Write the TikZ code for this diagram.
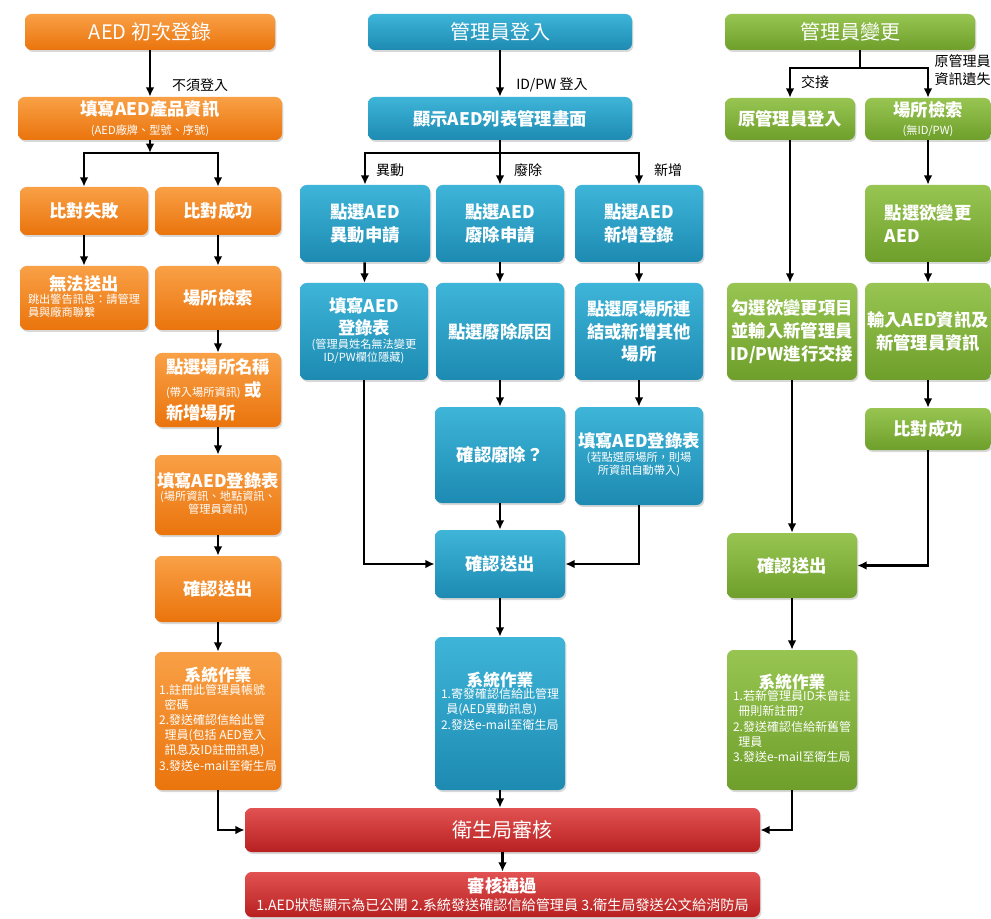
\documentclass[tikz,border=0pt]{standalone}
\usepackage{fontspec}
\setmainfont{Noto Sans CJK TC}
\usetikzlibrary{arrows.meta,shadows}
\newcommand\fsT{\fontsize{15}{18}\selectfont}
\newcommand\fsM{\fontsize{13}{17}\selectfont}
\newcommand\fsH{\fontsize{12.5}{15}\selectfont}
\newcommand\fsS{\fontsize{8.4}{10.8}\selectfont}
\newcommand\fsY{\fontsize{9}{12}\selectfont}
\newcommand\fsL{\fontsize{10.5}{13.5}\selectfont}
\definecolor{oT}{HTML}{F9A046}
\definecolor{oB}{HTML}{EA740C}
\definecolor{bT}{HTML}{3EB5D8}
\definecolor{bB}{HTML}{1D8AB2}
\definecolor{gT}{HTML}{98C552}
\definecolor{gB}{HTML}{6E9F2A}
\definecolor{rT}{HTML}{E25252}
\definecolor{rB}{HTML}{B82020}
\tikzset{
  box/.style={rounded corners=5pt, draw=none, text=white, align=center, inner sep=0pt,
    font=\fsM\bfseries, drop shadow={shadow xshift=1pt, shadow yshift=-1.5pt, opacity=0.3}},
  sz/.style 2 args={minimum width=#1*0.75pt, minimum height=#2*0.75pt},
  ob/.style={box, top color=oT, bottom color=oB},
  bb/.style={box, top color=bT, bottom color=bB},
  gb/.style={box, top color=gT, bottom color=gB},
  rb/.style={box, top color=rT, bottom color=rB},
  ttl/.style={font=\fsT\mdseries},
  arr/.style={line width=1.9pt, -{Latex[length=7pt,width=6.5pt]}},
  ln/.style={line width=1.9pt},
  lab/.style={font=\fsL, text=black, inner sep=0pt}
}
\renewcommand\arraystretch{0.95}
\begin{document}
\begin{tikzpicture}[x=0.75pt,y=-0.75pt]
\fill[white] (0,0) rectangle (991,919);
\useasboundingbox (0,0) rectangle (991,919);

% ---------- orange column ----------
\node[ob, ttl, sz={250}{36}] (t1) at (150,32) {AED 初次登錄};
\node[ob, sz={264}{43}] (o1) at (150,118.5) {填寫AED產品資訊\\[-3pt]{\fsS\mdseries (AED廠牌、型號、序號)}};
\node[ob, sz={128}{48}] (ofail) at (84,211) {比對失敗};
\node[ob, sz={126}{48}] (osucc) at (218,211) {比對成功};
\node[ob, sz={128}{64}] (onosend) at (84,298) {無法送出\\[-2pt]{\fsS\mdseries\begin{tabular}{@{}l@{}}跳出警告訊息：請管理\\員與廠商聯繫\end{tabular}}};
\node[ob, sz={126}{64}] (osearch) at (218,298) {場所檢索};
\node[ob, sz={126}{74}, align=left] (osel) at (218,390) {點選場所名稱\\{\fsS\mdseries (帶入場所資訊)} 或\\新增場所};
\node[ob, sz={126}{80}] (oform) at (218,495) {填寫AED登錄表\\[-2pt]{\fsS\mdseries\begin{tabular}{@{}c@{}}(場所資訊、地點資訊、\\管理員資訊)\end{tabular}}};
\node[ob, sz={126}{66}] (osub) at (218,589) {確認送出};
\node[ob, sz={126}{138}] (osys) at (218,721) {{\fsH 系統作業}\\[-1pt]{\fsY\mdseries\begin{tabular}{@{}l@{}}1.註冊此管理員帳號\\\ \ 密碼\\2.發送確認信給此管\\\ \ 理員(包括 AED登入\\\ \ 訊息及ID註冊訊息)\\3.發送e-mail至衛生局\end{tabular}}};

% ---------- blue column ----------
\node[bb, ttl, sz={264}{36}] (bt) at (500,32) {管理員登入};
\node[bb, sz={264}{43}] (b1) at (500,118.5) {顯示AED列表管理畫面};
\node[bb, sz={130}{77}] (b2a) at (365,223.5) {點選AED\\異動申請};
\node[bb, sz={128}{77}] (b2b) at (500,223.5) {點選AED\\廢除申請};
\node[bb, sz={128}{77}] (b2c) at (639,223.5) {點選AED\\新增登錄};
\node[bb, sz={128}{97}] (b3a) at (364,331.5) {填寫AED\\登錄表\\[-2pt]{\fsS\mdseries\begin{tabular}{@{}c@{}}(管理員姓名無法變更\\ID/PW欄位隱藏)\end{tabular}}};
\node[bb, sz={128}{97}] (b3b) at (500,331.5) {點選廢除原因};
\node[bb, sz={128}{97}] (b3c) at (639,331.5) {點選原場所連\\結或新增其他\\場所};
\node[bb, sz={130}{96}] (b4b) at (500,455) {確認廢除？};
\node[bb, sz={128}{98}] (b4c) at (639,456) {填寫AED登錄表\\[-2pt]{\fsS\mdseries\begin{tabular}{@{}c@{}}(若點選原場所，則場\\所資訊自動帶入)\end{tabular}}};
\node[bb, sz={130}{68}] (bsub) at (500,564) {確認送出};
\node[bb, sz={130}{153}] (bsys) at (500,713.5) {{\fsH 系統作業}\\[-1pt]{\fsY\mdseries\begin{tabular}{@{}l@{}}1.寄發確認信給此管理\\\ \ 員(AED異動訊息)\\2.發送e-mail至衛生局\end{tabular}}\\[14pt]};

% ---------- green column ----------
\node[gb, ttl, sz={250}{36}] (gt) at (850,32) {管理員變更};
\node[gb, sz={130}{42}] (g1) at (790,119) {原管理員登入};
\node[gb, sz={126}{42}] (g2) at (928,119) {場所檢索\\[-4pt]{\fsS\mdseries (無ID/PW)}};
\node[gb, sz={126}{77}, align=left] (g4) at (928,223.5) {點選欲變更\\AED};
\node[gb, sz={130}{97}] (g3) at (792,331.5) {勾選欲變更項目\\並輸入新管理員\\ID/PW進行交接};
\node[gb, sz={126}{97}] (g5) at (928,331.5) {輸入AED資訊及\\新管理員資訊};
\node[gb, sz={126}{42}] (g6) at (928,429) {比對成功};
\node[gb, sz={130}{65}] (gsub) at (792,565.5) {確認送出};
\node[gb, sz={130}{140}] (gsys) at (792,720) {{\fsH 系統作業}\\[-1pt]{\fsY\mdseries\begin{tabular}{@{}l@{}}1.若新管理員ID未曾註\\\ \ 冊則新註冊?\\2.發送確認信給新舊管\\\ \ 理員\\3.發送e-mail至衛生局\end{tabular}}};

% ---------- red ----------
\node[rb, ttl, sz={515}{44}] (red) at (502.5,830) {衛生局審核};
\node[rb, sz={515}{45}] (pass) at (502.5,894.5) {審核通過\\[-4pt]{\fontsize{10.6}{12}\selectfont\mdseries 1.AED狀態顯示為已公開 2.系統發送確認信給管理員 3.衛生局發送公文給消防局}};

% ---------- labels ----------
\node[lab] (l1) at (200,85) {不須登入};
\node[lab] (l2) at (552,85) {ID/PW 登入};
\node[lab] (l3) at (390,170) {異動};
\node[lab] (l4) at (528,170) {廢除};
\node[lab] (l5) at (668,170) {新增};
\node[lab] (l6) at (815,82) {交接};
\node[lab, align=right, anchor=north east] (l7) at (991,54) {原管理員\\資訊遺失};

% ---------- connectors orange ----------
\coordinate (oj) at (150,153);
\draw[arr] (t1.south) -- (o1.north);
\draw[arr] (o1.south) -- (oj);
\draw[arr] (oj) -| (ofail.north);
\draw[arr] (oj) -| (osucc.north);
\draw[arr] (ofail) -- (onosend);
\draw[arr] (osucc) -- (osearch);
\draw[arr] (osearch) -- (osel);
\draw[arr] (osel) -- (oform);
\draw[arr] (oform) -- (osub);
\draw[arr] (osub) -- (osys);
\draw[arr] (osys.south) |- (red.west);

% ---------- connectors blue ----------
\coordinate (bj) at (500,153);
\draw[arr] (bt.south) -- (b1.north);
\draw[ln] (b1.south) -- (bj);
\draw[arr] (bj) -| (b2a.north);
\draw[arr] (bj) -- (b2b.north);
\draw[arr] (bj) -| (b2c.north);
\draw[arr] (b2a) -- (b3a);
\draw[arr] (b2b) -- (b3b);
\draw[arr] (b2c) -- (b3c);
\draw[arr] (b3b) -- (b4b);
\draw[arr] (b3c) -- (b4c);
\draw[arr] (b3a.south) |- (bsub.west);
\draw[arr] (b4b) -- (bsub);
\draw[arr] (b4c.south) |- (bsub.east);
\draw[arr] (bsub) -- (bsys);
\draw[arr] (bsys.south) -- (bsys.south |- red.north);

% ---------- connectors green ----------
\coordinate (gj) at (860,68);
\draw[ln] (gt.south -| gj) -- (gj);
\draw[arr] (gj) -| (g1.north);
\draw[arr] (gj) -| (g2.north);
\draw[arr] (g1.south) -- (g1.south |- g3.north);
\draw[arr] (g2) -- (g4);
\draw[arr] (g4) -- (g5);
\draw[arr] (g5) -- (g6);
\draw[arr] (g3.south) -- (g3.south |- gsub.north);
\draw[arr] (g6.south) |- (gsub.east);
\draw[arr] (gsub) -- (gsys);
\draw[arr] (gsys.south) |- (red.east);

% ---------- red ----------
\draw[arr] (red) -- (pass);
\end{tikzpicture}
\end{document}
